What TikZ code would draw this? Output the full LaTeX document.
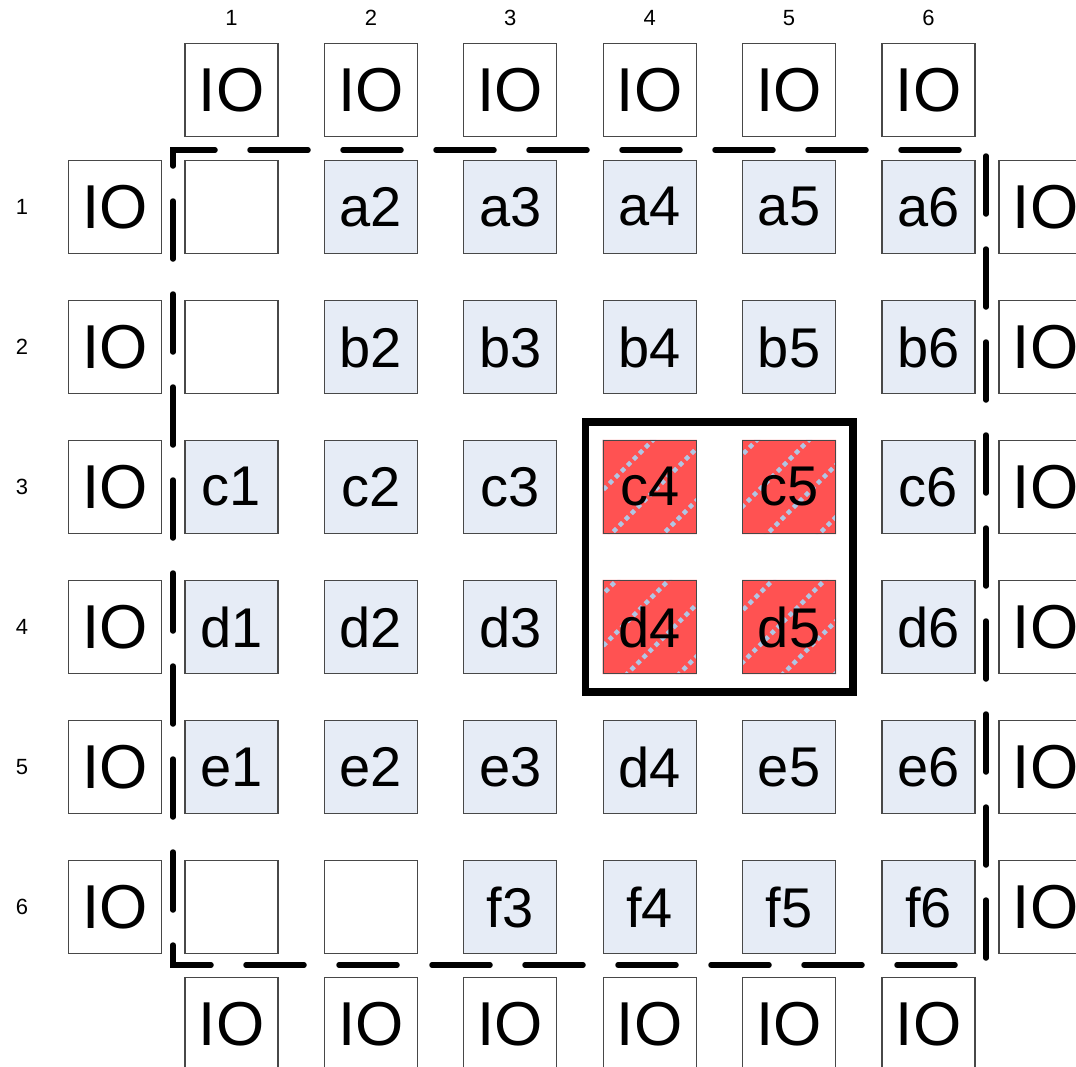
\documentclass[tikz,border=0pt]{standalone}
\usepackage{fontspec}
\setmainfont{Liberation Sans}
\usetikzlibrary{backgrounds,fit}

\definecolor{cellblue}{RGB}{230,236,246}
\definecolor{hotred}{RGB}{255,82,82}
\definecolor{hatchblue}{RGB}{176,198,228}
\definecolor{edgegray}{RGB}{72,72,72}

\begin{document}
\begin{tikzpicture}[x=1pt,y=-1pt,
    box/.style={draw=edgegray,line width=1.2pt,minimum size=93pt,inner sep=0pt},
    iobox/.style={box,fill=white,font=\fontsize{62}{64}\selectfont},
    cell/.style={box,fill=cellblue,font=\fontsize{56}{58}\selectfont},
    emptycell/.style={box,fill=white},
    hotcell/.style={cell,fill=none},
    idx/.style={font=\fontsize{22}{24}\selectfont},
    hatch/.style={hatchblue,line width=4.5pt,dash pattern=on 4.5pt off 4pt},
    border/.style={line width=5.5pt,line cap=round,dash pattern=on 58pt off 35pt},
    region/.style={draw,line width=7.5pt,inner xsep=17pt,inner ysep=18pt}]
    \useasboundingbox (0,0) rectangle (1076,1066);
    \clip (0,0) rectangle (1076,1066);

    % Index labels:
    \foreach \n in {1,...,6} {
        \node[idx] (col\n) at ({231.5+139.4*(\n-1)},18) {\n};
        \node[idx] (row\n) at (22,{207+140*(\n-1)}) {\n};
    }

    % IO pads round the array:
    \foreach \n in {1,...,6} {
        \node[iobox] (iot\n) at ({231.5+139.4*(\n-1)},90) {IO};
        \node[iobox] (iob\n) at ({231.5+139.4*(\n-1)},1024) {IO};
        \node[iobox] (iol\n) at (115,{207+140*(\n-1)}) {IO};
        \node[iobox] (ior\n) at (1045.5,{207+140*(\n-1)}) {IO};
    }

    % Array cells:
    \foreach \rn/\r/\row in {
        1/a/{emptycell/{},cell/a2,cell/a3,cell/a4,cell/a5,cell/a6},
        2/b/{emptycell/{},cell/b2,cell/b3,cell/b4,cell/b5,cell/b6},
        3/c/{cell/c1,cell/c2,cell/c3,hotcell/c4,hotcell/c5,cell/c6},
        4/d/{cell/d1,cell/d2,cell/d3,hotcell/d4,hotcell/d5,cell/d6},
        5/e/{cell/e1,cell/e2,cell/e3,cell/d4,cell/e5,cell/e6},
        6/f/{emptycell/{},emptycell/{},cell/f3,cell/f4,cell/f5,cell/f6}}
        \foreach [count=\c] \s/\t in \row
            \node[\s] (\r\c) at ({231.5+139.4*(\c-1)},{207+140*(\rn-1)}) {\t};

    % Hot cells, red with a hatch:
    \begin{pgfonlayer}{background}
        \fill[hotred] (c4.north west) rectangle (c4.south east)
            (c5.north west) rectangle (c5.south east)
            (d4.north west) rectangle (d4.south east)
            (d5.north west) rectangle (d5.south east);
        \clip (c4.north west) rectangle (c4.south east)
            (c5.north west) rectangle (c5.south east)
            (d4.north west) rectangle (d4.south east)
            (d5.north west) rectangle (d5.south east);
        \foreach \k in {19,...,30}
            \draw[hatch] ({52*\k+1-730},730) -- ({52*\k+1-370},370);
    \end{pgfonlayer}

    % Group frame and core boundary:
    \node[region,fit=(c4)(d5)] (group) {};
    \draw[border] (959,150) -- (173,150) -- (173,965) -- (962,965);
    \draw[border] (986,156) -- (986,962);
\end{tikzpicture}
\end{document}
